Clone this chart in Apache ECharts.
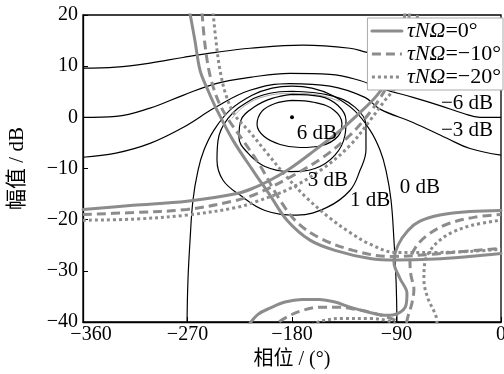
<!DOCTYPE html>
<html><head><meta charset="utf-8">
<script src="https://cdn.jsdelivr.net/npm/echarts@6/dist/echarts.min.js"></script>
<style>html,body{margin:0;padding:0;background:#fff}#c{width:504px;height:374px}</style>
</head><body><div id="c"></div>
<script>
// ---- axis ticks ----
const phaseTicks = [-360, -270, -180, -90, 0];
const gainTicks = [-40, -30, -20, -10, 0, 10, 20];

// ---- legend names ----
const seriesNames = ['τNΩ=0°', 'τNΩ=−10°', 'τNΩ=−20°'];

// ---- closed-loop contours (phase °, gain dB) ----
const contourA = [[-360,9.6],[-331.6,9.8],[-302.3,10.6],[-273.9,11.7],[-245.5,12.7],[-216.2,13.5],[-170.5,14.1],[-130.1,13.5],[-115.4,12.7],[-86,11.5],[-43,10.6],[0,9.8]];
const contourM6 = [[-360,0],[-331.6,0.2],[-302.3,1.8],[-273.9,4.3],[-245.5,6.6],[-216.2,7.8],[-181.7,8.6],[-147.3,8.4],[-121.5,7.2],[-104.2,5.7],[-75.8,3.9],[-52.6,2.3],[-32.8,0.8],[-18.1,0],[0,0]];
const contourM3 = [[-360,-7.8],[-331.6,-7.0],[-302.3,-5.1],[-273.9,-2.0],[-245.5,2.0],[-216.2,5.3],[-181.7,6.6],[-147.3,6.1],[-117.2,3.9],[-104.2,1.6],[-75.8,-1.0],[-46.5,-4.1],[-26.7,-6.1],[0,-7.4]];
const contour0 = [[-270.4,-40],[-269.6,-31.8],[-267.8,-24.0],[-265.3,-16.2],[-261.0,-10.4],[-255.8,-6.4],[-247.2,-2.5],[-233.4,1.4],[-214.4,4.3],[-197.2,5.7],[-180,6.1],[-162.8,5.7],[-145.6,4.3],[-126.6,1.4],[-112.8,-2.5],[-104.2,-6.4],[-99.0,-10.4],[-94.7,-16.2],[-92.2,-24.0],[-90.4,-31.8],[-89.6,-40]];
const contour1 = [[-180,5.1],[-147.3,4.3],[-125.8,2.0],[-116.3,-1.6],[-116.3,-6.4],[-121.5,-10.4],[-130.1,-14.3],[-149.9,-17.6],[-175.7,-19.1],[-203.3,-18.2],[-224.8,-15.2],[-239.4,-12.3],[-244.6,-8.4],[-243.7,-4.5],[-235.1,-0.2],[-216.2,3.3],[-199.0,4.7],[-180,5.1]];
const contour2 = [[-231.7,-0.2],[-220.5,2.3],[-203.3,4.1],[-180,4.7],[-155.9,4.3],[-138.7,3.1]];
const contour3 = [[-180,4.5],[-155.9,4.1],[-140.4,2.3],[-133.5,-0.6],[-134.4,-3.5],[-143.0,-7.4],[-160.2,-10.0],[-181.7,-10.6],[-203.3,-9.6],[-217.9,-7.0],[-225.7,-3.9],[-224.0,-0.6],[-211.9,2.1],[-197.2,3.7],[-180,4.5]];
const contour6 = [[-180,3.3],[-160.2,2.9],[-143.8,1.4],[-137.0,-1.2],[-140.4,-3.7],[-154.2,-5.5],[-173.1,-5.9],[-190.3,-5.3],[-204.2,-3.7],[-210.1,-1.4],[-205.8,1.2],[-194.6,2.7],[-180,3.3]];
const criticalPoint = [[-180, 0]];

// ---- contour labels ----
const contourLabels = ['6 dB', '3 dB', '1 dB', '0 dB', '−6 dB', '−3 dB'];
const contourLabelPos = [[-158.5,-3.1],[-149,-12.3],[-112.8,-16.2],[-69.8,-13.7],[-29.3,2.7],[-29.3,-2.5]];

// ---- loci: τNΩ = 0° ----
const solidTop = [[-268,20.5],[-263.6,15.0],[-259.2,9.2],[-252.4,5.3],[-244.6,1.4],[-230.8,-4.5],[-213.6,-10.4],[-199.0,-15.2],[-184.3,-20.1],[-164.5,-24.0],[-143.0,-26.0],[-112.8,-27.6],[-89.6,-27.9],[-56.9,-27.7],[-27.6,-27.2],[0,-26.6]];
const solidLeft = [[-360,-18.0],[-316.9,-17.2],[-270.4,-16.4],[-227.4,-14.9],[-211.9,-13.7],[-199.0,-12.3],[-181.7,-10.0],[-160.2,-6.4],[-141.3,-3.1],[-124.0,0.4],[-106.8,4.3],[-95.6,8.2],[-87.0,14.1],[-82.7,20.5]];
const solidBottom = [[-218,-40.8],[-209.3,-38.5],[-199.0,-37.3],[-186.0,-36.1],[-171.4,-35.6],[-156.8,-35.6],[-143.0,-36.1],[-130.1,-37.1],[-113.7,-38.1],[-100.0,-38.7],[-88.7,-38.3],[-81.8,-36.7],[-81.0,-34.4],[-87.0,-31.5],[-92.2,-28.3],[-88.7,-25.0],[-80.1,-22.1],[-69.8,-20.3],[-52.6,-19.1],[-26.7,-18.4],[0,-18.2]];

// ---- loci: τNΩ = −10° ----
const dashTop = [[-257.5,20.5],[-254.9,14.1],[-250.6,8.2],[-243.7,3.3],[-236.0,0],[-222.2,-4.5],[-207.6,-9.4],[-190.3,-16.2],[-175.7,-20.5],[-155.9,-23.6],[-127.5,-26.0],[-95.6,-27.2],[-61.2,-26.8],[-32.8,-26.2],[0,-25.6]];
const dashLeft = [[-360,-19.0],[-316.9,-18.6],[-270.4,-18.0],[-227.4,-16.2],[-210.1,-14.9],[-181.7,-11.7],[-153.3,-7.8],[-130.1,-3.5],[-112.8,1.0],[-100.0,5.3],[-89.6,10.2],[-78.4,20.5]];
const dashBottom = [[-199.0,-42.0],[-193.0,-40.3],[-181.7,-38.7],[-170.5,-37.7],[-155.9,-37.1],[-141.3,-37.1],[-125.8,-37.5],[-112.8,-38.1],[-100.0,-38.9],[-89.6,-39.9],[-86.1,-41.3],[-82.7,-40.9],[-80.1,-38.9],[-76.7,-36.3],[-75.0,-33.6],[-77.5,-30.9],[-78.4,-28.3],[-74.1,-25.6],[-63.8,-23.1],[-46.5,-20.9],[-22.4,-19.5],[0,-19.0]];

// ---- loci: τNΩ = −20° ----
const dotTop = [[-248.0,20.5],[-245.5,15.0],[-242.0,9.2],[-236.8,4.3],[-229.1,0.4],[-216.2,-2.9],[-201.5,-7.0],[-184.3,-11.7],[-167.1,-15.8],[-147.3,-19.7],[-130.1,-22.5],[-112.8,-24.8],[-91.3,-26.4],[-56.9,-26.4],[-26.7,-26.2],[0,-25.8]];
const dotLeft = [[-360,-20.1],[-316.9,-19.9],[-270.4,-19.1],[-227.4,-17.6],[-210.1,-16.4],[-181.7,-13.9],[-153.3,-10.0],[-130.1,-5.5],[-112.8,-0.6],[-100.0,3.3],[-89.6,6.3],[-78.4,12.1],[-71.5,20.5]];
const dotBottom = [[-173.1,-41.6],[-155.9,-39.9],[-136.1,-39.3],[-112.8,-39.3],[-95.6,-39.9],[-78.4,-41.6],[-61.2,-41.6],[-55.1,-39.9],[-56.9,-38.3],[-62.9,-35.4],[-66.4,-31.8],[-65.5,-28.3],[-60.3,-25.8],[-52.6,-24.0],[-42.2,-22.5],[-25.0,-21.1],[0,-20.1]];

const SERIF = '"Liberation Serif","DejaVu Serif",serif';
const CJK = '"Liberation Serif","Noto Sans CJK SC",serif';
const GRAY = '#8c8c8c';
const minus = v => String(v).replace('-', '−');

function contour(data, color, width) {
  return { type: 'line', data: data, smooth: 0.4, symbol: 'none', silent: true,
    lineStyle: { color: color || '#000', width: width || 1.2 }, z: 2 };
}
function locus(name, data, type) {
  return { name: name, type: 'line', data: data, smooth: 0.35, symbol: 'none', silent: true,
    lineStyle: { color: GRAY, width: 3, type: type, cap: type === 'solid' ? 'round' : 'butt' },
    itemStyle: { color: GRAY }, z: 3 };
}

const chart = echarts.init(document.getElementById('c'), null, { renderer: 'canvas' });
chart.setOption({
  animation: false,
  backgroundColor: '#fff',
  grid: { left: 83, right: 3, top: 15, bottom: 52, outerBoundsMode: 'none', containLabel: false,
    show: true, borderColor: '#000', borderWidth: 1.3, backgroundColor: 'transparent' },
  xAxis: {
    type: 'value', min: phaseTicks[0], max: phaseTicks[phaseTicks.length - 1], interval: 90,
    name: '相位 / (°)', nameLocation: 'middle', nameGap: 27,
    nameTextStyle: { fontFamily: CJK, fontSize: 20, color: '#000' },
    axisLine: { onZero: false, lineStyle: { color: '#000', width: 1.3 } },
    axisTick: { inside: true, length: 5, lineStyle: { color: '#000' } },
    axisLabel: { color: '#000', fontFamily: SERIF, fontSize: 20, margin: 3, hideOverlap: false,
      formatter: v => v === phaseTicks[0] ? '{m|' + minus(v) + '}' : minus(v),
      rich: { m: { fontFamily: SERIF, fontSize: 20, color: '#000', padding: [0, 0, 0, 16] } } },
    splitLine: { show: false }
  },
  yAxis: {
    type: 'value', min: gainTicks[0], max: gainTicks[gainTicks.length - 1], interval: 10,
    name: '幅值 / dB', nameLocation: 'middle', nameGap: 55,
    nameTextStyle: { fontFamily: CJK, fontSize: 21, color: '#000' },
    axisLine: { onZero: false, lineStyle: { color: '#000', width: 1.3 } },
    axisTick: { inside: true, length: 5, lineStyle: { color: '#000' } },
    axisLabel: { color: '#000', fontFamily: SERIF, fontSize: 20, margin: 5, formatter: minus },
    splitLine: { show: false }
  },
  legend: {
    data: seriesNames, orient: 'vertical', right: 1, top: 18,
    itemWidth: 30, itemHeight: 12, itemGap: 1, padding: [2, 2, 2, 3],
    backgroundColor: '#fff', borderColor: '#aaa', borderWidth: 1, borderRadius: 0,
    selectedMode: false,
    itemStyle: { opacity: 0 },
    lineStyle: { width: 3, color: GRAY },
    formatter: function (n) { const k = n.indexOf('='); return '{i|' + n.slice(0, k) + '}{r|' + n.slice(k) + '}'; },
    textStyle: { rich: {
      i: { fontFamily: SERIF, fontStyle: 'italic', fontSize: 22, lineHeight: 21, color: '#000' },
      r: { fontFamily: SERIF, fontSize: 22, lineHeight: 21, color: '#000' } } }
  },
  series: [
    contour(contourA), contour(contourM6), contour(contourM3), contour(contour0),
    contour(contour1), contour(contour2, '#aaa', 1), contour(contour3), contour(contour6),
    { type: 'scatter', data: criticalPoint, symbolSize: 4, itemStyle: { color: '#000', opacity: 1 }, silent: true, z: 4 },
    { type: 'scatter', silent: true, symbolSize: 0, z: 5, itemStyle: { opacity: 1, color: '#000' },
      data: contourLabels.map((t, i) => ({ name: t, value: contourLabelPos[i] })),
      label: { show: true, position: 'inside', formatter: p => p.name, color: '#000', opacity: 1, fontFamily: SERIF, fontSize: 21 } },
    locus(seriesNames[0], solidTop, 'solid'),
    locus(seriesNames[0], solidLeft, 'solid'),
    locus(seriesNames[0], solidBottom, 'solid'),
    locus(seriesNames[1], dashTop, [9, 5]),
    locus(seriesNames[1], dashLeft, [9, 5]),
    locus(seriesNames[1], dashBottom, [9, 5]),
    locus(seriesNames[2], dotTop, [3, 3]),
    locus(seriesNames[2], dotLeft, [3, 3]),
    locus(seriesNames[2], dotBottom, [3, 3])
  ]
});
</script>
</body></html>
